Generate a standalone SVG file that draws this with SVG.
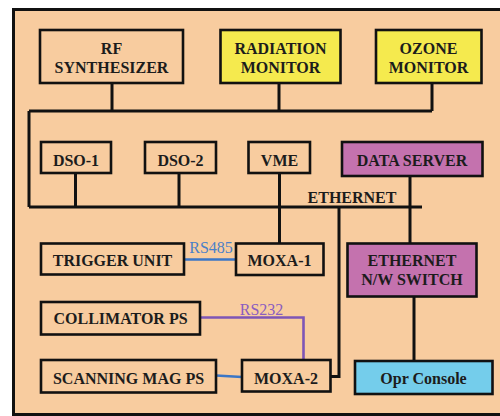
<svg xmlns="http://www.w3.org/2000/svg" width="500" height="416" viewBox="0 0 500 416">
  <style>
    .box { stroke: #111; stroke-width: 2.6; }
    .plain { fill: #F8CC9F; }
    .yellow { fill: #F5EA4E; }
    .purple { fill: #C472AE; }
    .cyan { fill: #74CDEB; }
    .lbl { font-family: 'Liberation Serif', 'DejaVu Serif', serif; font-weight: bold; font-size: 16px; fill: #1c1c1c; text-anchor: middle; }
    .ser { font-family: 'Liberation Serif', 'DejaVu Serif', serif; font-size: 16px; text-anchor: middle; }
    .wire { stroke: #111; stroke-width: 3; fill: none; }
    .rs485 { stroke: #3B76C6; stroke-width: 2.6; fill: none; }
    .rs232 { stroke: #7E55B6; stroke-width: 2.6; fill: none; }
  </style>

  <!-- page background and frame -->
  <rect x="0" y="0" width="500" height="416" fill="#ffffff"/>
  <rect x="13.5" y="9.5" width="500" height="405" fill="#F8CC9F" stroke="#111" stroke-width="3"/>

  <!-- connectors -->
  <g id="connectors">
    <!-- upper bus joining the instruments -->
    <path class="wire" d="M112 83 V111 M279 83 V111 M432 83 V111 M29 111 H432 M29 111 V207"/>
    <!-- ethernet bus -->
    <path class="wire" d="M29 207 H422"/>
    <path class="wire" d="M75.5 173 V207 M179 173 V207"/>
    <path class="wire" d="M279.5 173 V243.5"/>
    <path class="wire" d="M410 176 V243.5"/>
    <path class="wire" d="M339 207 V376.5 H330.5"/>
    <path class="wire" d="M414 297 V361"/>
    <!-- serial links -->
    <path class="rs485" d="M184 259.5 H236"/>
    <path class="rs232" d="M200 317.5 H303.5 V360"/>
    <path class="rs485" d="M216 375.5 L242 377"/>
    <text class="ser" x="211" y="253" fill="#4A80C8">RS485</text>
    <text class="ser" x="261.5" y="315" fill="#8A5DC0">RS232</text>
    <text class="lbl" x="352" y="203">ETHERNET</text>
  </g>

  <g id="rf-synthesizer">
    <rect class="box plain" x="40" y="30" width="143" height="53"/>
    <text class="lbl" x="111.5" y="54">RF</text>
    <text class="lbl" x="111.5" y="73">SYNTHESIZER</text>
  </g>
  <g id="radiation-monitor">
    <rect class="box yellow" x="220.5" y="30" width="120" height="53"/>
    <text class="lbl" x="280.5" y="54">RADIATION</text>
    <text class="lbl" x="280.5" y="73">MONITOR</text>
  </g>
  <g id="ozone-monitor">
    <rect class="box yellow" x="376" y="30" width="105.5" height="53"/>
    <text class="lbl" x="428.5" y="54">OZONE</text>
    <text class="lbl" x="428.5" y="73">MONITOR</text>
  </g>

  <g id="dso-1">
    <rect class="box plain" x="41" y="142" width="70" height="31"/>
    <text class="lbl" x="76" y="165.5">DSO-1</text>
  </g>
  <g id="dso-2">
    <rect class="box plain" x="145" y="142" width="71" height="31"/>
    <text class="lbl" x="180.5" y="165.5">DSO-2</text>
  </g>
  <g id="vme">
    <rect class="box plain" x="248.5" y="142" width="61.5" height="31"/>
    <text class="lbl" x="279.5" y="165.5">VME</text>
  </g>
  <g id="data-server">
    <rect class="box purple" x="342" y="142" width="140.5" height="34"/>
    <text class="lbl" x="412" y="165.5">DATA SERVER</text>
  </g>

  <g id="trigger-unit">
    <rect class="box plain" x="41" y="243.5" width="143" height="31"/>
    <text class="lbl" x="112.5" y="266">TRIGGER UNIT</text>
  </g>
  <g id="moxa-1">
    <rect class="box plain" x="236" y="243.5" width="87.5" height="31.5"/>
    <text class="lbl" x="279.5" y="265.5">MOXA-1</text>
  </g>
  <g id="ethernet-switch">
    <rect class="box purple" x="347.5" y="243.5" width="129" height="53"/>
    <text class="lbl" x="412" y="266">ETHERNET</text>
    <text class="lbl" x="412" y="285">N/W SWITCH</text>
  </g>
  <g id="collimator-ps">
    <rect class="box plain" x="41" y="302" width="159" height="32.5"/>
    <text class="lbl" x="120.5" y="324">COLLIMATOR PS</text>
  </g>
  <g id="scanning-mag-ps">
    <rect class="box plain" x="41" y="360" width="175" height="32.5"/>
    <text class="lbl" x="128.5" y="383.5">SCANNING MAG PS</text>
  </g>
  <g id="moxa-2">
    <rect class="box plain" x="242" y="360" width="88.5" height="31.5"/>
    <text class="lbl" x="286" y="383.5">MOXA-2</text>
  </g>
  <g id="opr-console">
    <rect class="box cyan" x="355" y="361" width="137.5" height="33"/>
    <text class="lbl" x="423.5" y="384">Opr Console</text>
  </g>
</svg>
